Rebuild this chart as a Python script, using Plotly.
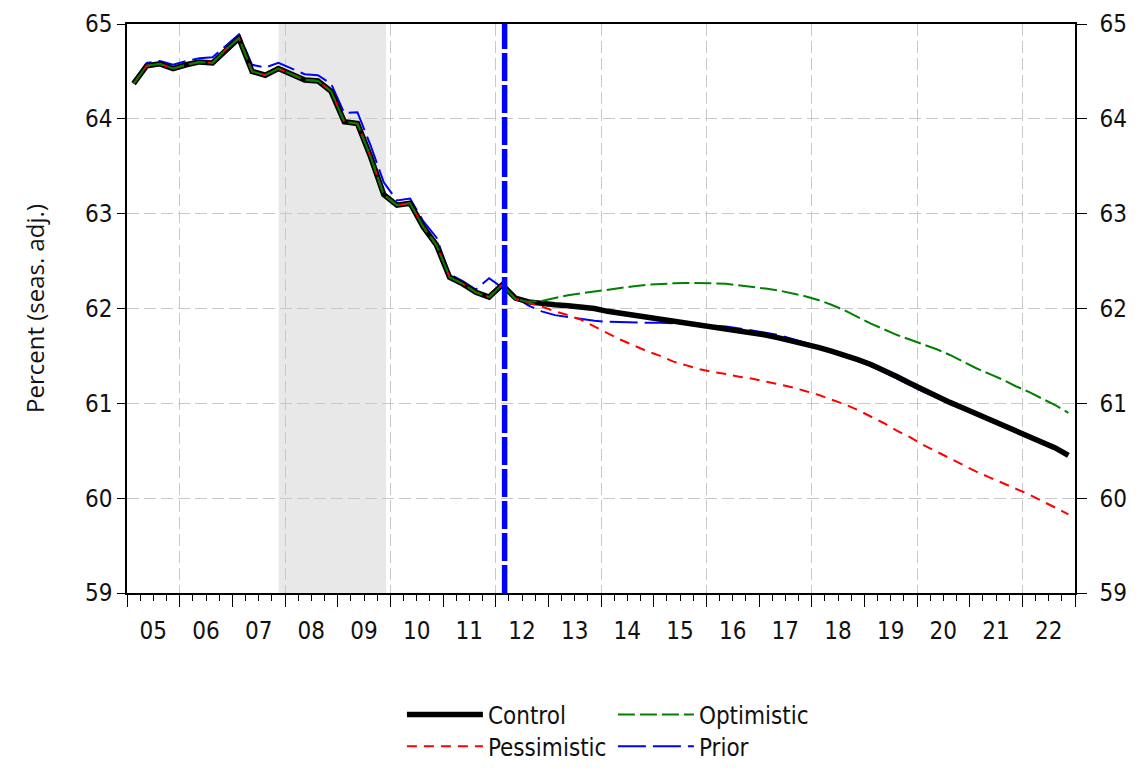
import plotly.graph_objects as go

# ---------------- data ----------------
years = list(range(2005, 2023))
year_labels = [f"{y % 100:02d}" for y in years]
quarter_labels = [f"{y}Q{q}" for y in range(2005, 2023) for q in range(1, 5)]


def q_to_x(label):
    y, q = label.split("Q")
    return int(y) + (int(q) - 0.5) / 4.0


history = [64.37, 64.56, 64.58, 64.53, 64.57, 64.60, 64.59, 64.73, 64.85, 64.50,
           64.46, 64.53, 64.47, 64.41, 64.40, 64.29, 63.97, 63.95, 63.60, 63.20,
           63.09, 63.11, 62.86, 62.67, 62.33, 62.26, 62.17, 62.12, 62.25]

control_fc = [62.11, 62.07, 62.05, 62.04, 62.03, 62.02, 62.00, 61.97, 61.95, 61.92,
              61.90, 61.88, 61.86, 61.84, 61.82, 61.80, 61.78, 61.76, 61.74, 61.72,
              61.69, 61.66, 61.63, 61.59, 61.55, 61.51, 61.46, 61.41, 61.35, 61.28,
              61.21, 61.14, 61.08, 61.01, 60.95, 60.89, 60.84, 60.78, 60.72, 60.66,
              60.60, 60.53, 60.45]

optimistic_fc = [62.10, 62.07, 62.08, 62.11, 62.14, 62.16, 62.18, 62.20, 62.22, 62.235,
                 62.25, 62.26, 62.265, 62.27, 62.27, 62.265, 62.26, 62.245, 62.23, 62.21,
                 62.19, 62.16, 62.13, 62.09, 62.04, 61.98, 61.91, 61.84, 61.78, 61.72,
                 61.67, 61.62, 61.57, 61.51, 61.44, 61.37, 61.31, 61.25, 61.18, 61.12,
                 61.05, 60.98, 60.90]

pessimistic_fc = [62.10, 62.06, 62.02, 61.97, 61.93, 61.88, 61.81, 61.74, 61.67, 61.61,
                  61.55, 61.50, 61.44, 61.40, 61.36, 61.33, 61.31, 61.28, 61.26, 61.23,
                  61.20, 61.17, 61.13, 61.09, 61.04, 60.99, 60.93, 60.86, 60.79, 60.71,
                  60.64, 60.56, 60.49, 60.42, 60.35, 60.28, 60.22, 60.16, 60.10, 60.04,
                  59.97, 59.90, 59.83]

prior = [64.39, 64.59, 64.61, 64.57, 64.61, 64.64, 64.65, 64.77, 64.89, 64.57,
         64.54, 64.59, 64.53, 64.47, 64.46, 64.37, 64.06, 64.07, 63.72, 63.33,
         63.14, 63.16, 62.92, 62.75, 62.36, 62.29, 62.20, 62.32, 62.22,
         62.12, 62.03, 61.97, 61.93, 61.91, 61.89, 61.87, 61.86, 61.855, 61.85,
         61.85, 61.85, 61.845, 61.84, 61.83, 61.82, 61.81, 61.79, 61.77, 61.745,
         61.72, 61.68, 61.64, 61.60, 61.55, 61.50, 61.45, 61.39, 61.33, 61.26,
         61.19, 61.12, 61.06, 61.00, 60.94, 60.88, 60.82, 60.76, 60.70, 60.64]

recession = (2007.88, 2009.92)
forecast_start = 2012.17
y_ticks = [59, 60, 61, 62, 63, 64, 65]

control = history + control_fc
optimistic = history + optimistic_fc
pessimistic = history + pessimistic_fc

x_all = [q_to_x(q) for q in quarter_labels]
x_prior = x_all[:len(prior)]

TICKFONT = dict(family="DejaVu Sans Condensed, Liberation Sans Narrow, sans-serif",
                size=24, color="#111111")
GRID = "#c8c8c8"

fig = go.Figure()
# drawing order: Prior (x,y) < Control (x2,y) < Pessimistic (x3,y) < Optimistic (x3,y2)
fig.add_trace(go.Scatter(x=x_prior, y=prior, mode="lines", name="Prior",
                         xaxis="x", yaxis="y",
                         line=dict(color="#0000ff", width=2, dash="28px,7px"),
                         legend="legend2", legendrank=4))
fig.add_trace(go.Scatter(x=x_all, y=control, mode="lines", name="Control",
                         xaxis="x2", yaxis="y",
                         line=dict(color="black", width=5.5),
                         legend="legend", legendrank=1))
fig.add_trace(go.Scatter(x=x_all, y=pessimistic, mode="lines", name="Pessimistic",
                         xaxis="x3", yaxis="y",
                         line=dict(color="#ff0000", width=2, dash="10px,7px"),
                         legend="legend2", legendrank=3))
fig.add_trace(go.Scatter(x=x_all, y=optimistic, mode="lines", name="Optimistic",
                         xaxis="x3", yaxis="y2",
                         line=dict(color="#008000", width=2, dash="17px,5px"),
                         legend="legend", legendrank=2))

# recession shading
fig.add_shape(type="rect", xref="x", yref="paper", x0=recession[0], x1=recession[1],
              y0=0, y1=1, fillcolor="#e8e8e8", line=dict(width=0), layer="below")
# forecast start line
fig.add_shape(type="line", xref="x", yref="paper", x0=forecast_start, x1=forecast_start,
              y0=0, y1=1, line=dict(color="#0000ff", width=5.5, dash="28px,4px"), layer="above")

xr = [2005, 2023]
fig.update_layout(
    width=1143, height=772,
    margin=dict(l=119, r=76, t=16, b=186),
    paper_bgcolor="white", plot_bgcolor="white",
    showlegend=True,
    # main x: year ticks (long) + quarter minor ticks, frame
    xaxis=dict(range=xr, tickmode="array", tickvals=list(range(2005, 2024)),
               showticklabels=False, ticks="outside", ticklen=12, tickwidth=1.3,
               tickcolor="black", showgrid=False, zeroline=False, automargin=False,
               showline=True, linecolor="black", linewidth=1.5, mirror=True,
               minor=dict(dtick=0.25, tick0=2005, ticks="outside", ticklen=6,
                          tickwidth=1, tickcolor="black", showgrid=False)),
    # year labels centred in each year
    xaxis2=dict(range=xr, overlaying="x", anchor="y", side="bottom",
                tickmode="array", tickvals=[y + 0.5 for y in years], ticktext=year_labels,
                ticks="outside", ticklen=16, tickcolor="rgba(0,0,0,0)",
                tickfont=TICKFONT, showgrid=False, zeroline=False, showline=False,
                automargin=False),
    # vertical grid every two years
    xaxis3=dict(range=xr, overlaying="x", anchor="y", side="bottom",
                tickmode="array", tickvals=list(range(2006, 2023, 2)),
                showticklabels=False, ticks="", showgrid=True, gridcolor=GRID,
                gridwidth=1.3, griddash="12px,5px", zeroline=False, showline=False,
                automargin=False),
    yaxis=dict(range=[59, 65], tickmode="array", tickvals=y_ticks,
               ticks="outside", ticklen=8, tickwidth=1.3, tickcolor="black",
               tickfont=TICKFONT, showgrid=True, gridcolor=GRID, gridwidth=1.3,
               griddash="12px,5px", zeroline=False, showline=True,
               linecolor="black", linewidth=1.5, automargin=False,
               title=dict(text="Percent (seas. adj.)",
                          font=dict(family="Open Sans, Noto Sans, sans-serif",
                                    size=24, color="#111111"),
                          standoff=34)),
    yaxis2=dict(range=[59, 65], overlaying="y", anchor="x", side="right",
                tickmode="array", tickvals=y_ticks, ticks="outside", ticklen=10,
                tickwidth=1.3, tickcolor="black", tickfont=TICKFONT,
                ticklabelstandoff=8,
                showgrid=False, zeroline=False, showline=True,
                linecolor="black", linewidth=1.5, automargin=False),
    legend=dict(orientation="h", x=0.290, xanchor="left", y=-0.212, yanchor="middle",
                entrywidth=120, entrywidthmode="pixels", itemwidth=76,
                font=TICKFONT, bgcolor="rgba(0,0,0,0)", traceorder="normal"),
    legend2=dict(orientation="h", x=0.290, xanchor="left", y=-0.268, yanchor="middle",
                 entrywidth=120, entrywidthmode="pixels", itemwidth=76,
                 font=TICKFONT, bgcolor="rgba(0,0,0,0)", traceorder="normal"),
)

fig.write_html("out.html")
